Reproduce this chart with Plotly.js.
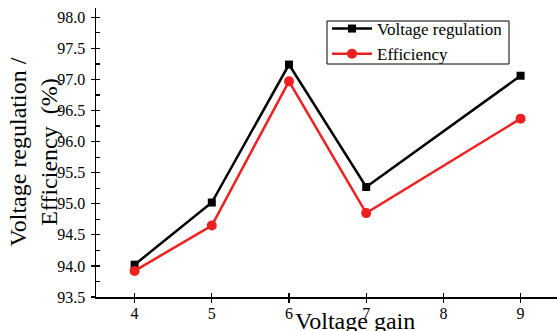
<!DOCTYPE html>
<html>
<head>
<meta charset="utf-8">
<script src="https://cdn.plot.ly/plotly-3.0.1.min.js"></script>
<style>html,body{margin:0;padding:0;background:#fff;}#chart{width:557px;height:331px;}</style>
</head>
<body>
<div id="chart"></div>
<script>
const voltageGain = [4, 5, 6, 7, 9];
const voltageRegulation = [94.02, 95.02, 97.24, 95.27, 97.06];
const efficiency = [93.92, 94.65, 96.97, 94.85, 96.37];
const seriesNames = ["Voltage regulation", "Efficiency"];
const xTitle = "Voltage gain";
const yTitle = "Voltage regulation /<br>Efficiency  (%)";

const FONT = "Liberation Serif";
const L = 96, T = 8, W = 557, H = 331, B = 34;
const PW = W - L, PH = H - T - B;
const px = v => (v - L) / PW;
const py = v => (H - B - v) / PH;
const traces = [
  {x: voltageGain, y: voltageRegulation, name: seriesNames[0], mode: "lines+markers",
   line: {color: "#000000", width: 2.5}, marker: {symbol: "square", size: 8, color: "#000000"}},
  {x: voltageGain, y: efficiency, name: seriesNames[1], mode: "lines+markers",
   line: {color: "#ee2020", width: 2.5}, marker: {symbol: "circle", size: 10, color: "#ee2020"}},
  {x: [null], y: [null], xaxis: "x2", yaxis: "y2", showlegend: false, hoverinfo: "skip"}
];
const xr = [3.5, 3.5 + PW / 77.2];
const yr = [93.5, 98.15];
const layout = {
  width: W, height: H,
  margin: {l: L, r: 0, t: T, b: B},
  paper_bgcolor: "#fff", plot_bgcolor: "#fff",
  font: {family: FONT, color: "#000", size: 15},
  showlegend: true,
  legend: {x: px(327), y: py(11), xanchor: "left", yanchor: "top",
    borderwidth: 0, bgcolor: "rgba(0,0,0,0)", font: {family: FONT, size: 17},
    tracegroupgap: 0, itemwidth: 40},
  shapes: [{type: "rect", xref: "paper", yref: "paper", x0: px(327), x1: px(509),
    y0: py(64), y1: py(21), line: {color: "#000", width: 1}, fillcolor: "rgba(0,0,0,0)", layer: "below"}],
  xaxis: {range: xr, dtick: 1, tick0: 0, ticks: "outside", ticklen: 4, tickwidth: 1.2,
    tickcolor: "#000", showline: true, linecolor: "#000", linewidth: 1.5, showgrid: false,
    zeroline: false, tickfont: {family: FONT, size: 16, color: "#000"}, ticklabelstandoff: -3},
  yaxis: {range: yr, dtick: 0.5, tick0: 0, tickformat: ".1f", ticks: "outside", ticklen: 4,
    tickwidth: 1.2, tickcolor: "#000", showline: true, linecolor: "#000", linewidth: 1.5,
    showgrid: false, zeroline: false, tickfont: {family: FONT, size: 16, color: "#000"}, ticklabelstandoff: 2},
  xaxis2: {range: xr, overlaying: "x", dtick: 1, tick0: 0, ticks: "inside", ticklen: 4,
    tickwidth: 1.2, tickcolor: "#000", showticklabels: false, showgrid: false, zeroline: false,
    showline: false},
  yaxis2: {range: yr, overlaying: "y", dtick: 0.25, tick0: 0, ticks: "inside", ticklen: 4,
    tickwidth: 1.2, tickcolor: "#000", showticklabels: false, showgrid: false, zeroline: false,
    showline: false},
  annotations: [
    {text: xTitle, xref: "paper", yref: "paper", x: px(355), y: 0,
     xanchor: "center", yanchor: "top", yshift: -9, showarrow: false,
     font: {family: FONT, size: 24}},
    {text: yTitle, xref: "paper", yref: "paper", x: px(33), y: 0.5,
     xanchor: "center", yanchor: "middle", textangle: -90, showarrow: false,
     font: {family: FONT, size: 24}}
  ]
};
Plotly.newPlot("chart", traces, layout, {displayModeBar: false, staticPlot: true});
</script>
</body>
</html>
